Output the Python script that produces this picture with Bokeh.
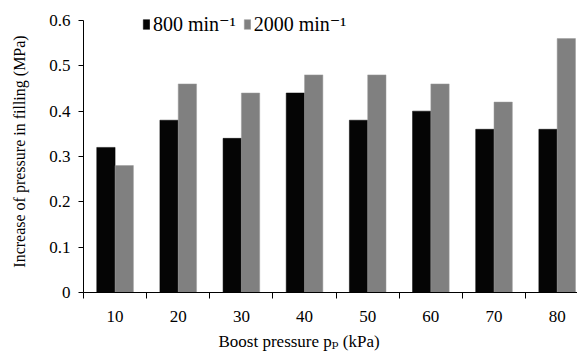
from bokeh.plotting import figure
from bokeh.models import Range1d, FixedTicker, Legend, LegendItem, Title, ColumnDataSource
from bokeh.transform import dodge
from bokeh.embed import file_html
from bokeh.resources import INLINE

categories = ["10", "20", "30", "40", "50", "60", "70", "80"]
s800 = [0.32, 0.38, 0.34, 0.44, 0.38, 0.40, 0.36, 0.36]
s2000 = [0.28, 0.46, 0.44, 0.48, 0.48, 0.46, 0.42, 0.56]
y_ticks = [0, 0.1, 0.2, 0.3, 0.4, 0.5, 0.6]
y_labels = ["0", "0.1", "0.2", "0.3", "0.4", "0.5", "0.6"]
series_names = ["800 min\u207b\u00b9", "2000 min\u207b\u00b9"]
x_title = "Boost pressure p\u209a (kPa)"
y_title = "Increase of pressure in filling (MPa)"

xpos = [i + 1 for i in range(len(categories))]
src = ColumnDataSource(dict(x=xpos, a=s800, b=s2000))

FONT = "Liberation Serif, DejaVu Serif, serif"
BLACK = "#050505"
GRAY = "#808080"

p = figure(width=577, height=356, output_backend="svg", toolbar_location=None,
           x_range=Range1d(0.5, 8.322), y_range=Range1d(0, 0.622),
           min_border_left=83, min_border_right=0, min_border_top=10, min_border_bottom=63)
p.outline_line_color = None
p.xgrid.grid_line_color = None
p.ygrid.grid_line_color = None
p.background_fill_color = "white"

r1 = p.vbar(x=dodge("x", -0.145, range=p.x_range), top="a", width=0.29, source=src,
            fill_color=BLACK, line_color=BLACK, line_width=0.5)
r2 = p.vbar(x=dodge("x", 0.145, range=p.x_range), top="b", width=0.29, source=src,
            fill_color=GRAY, line_color="#9a9a9a", line_width=0.5)

# x axis
xa = p.xaxis[0]
xa.ticker = FixedTicker(ticks=xpos, minor_ticks=[v - 0.5 for v in xpos] + [xpos[-1] + 0.5])
xa.major_label_overrides = {v: c for v, c in zip(xpos, categories)}
xa.major_tick_out = 0
xa.major_tick_in = 0
xa.minor_tick_out = 6
xa.minor_tick_in = 0
xa.minor_tick_line_color = "#000000"
xa.axis_line_color = "#000000"
xa.major_label_text_font = FONT
xa.major_label_text_font_size = "17px"
xa.major_label_text_color = "#000000"
xa.major_label_standoff = 12

# y axis (line limited to the 0..0.6 span)
ya = p.yaxis[0]
ya.ticker = FixedTicker(ticks=y_ticks)
ya.bounds = (y_ticks[0], y_ticks[-1])
ya.major_label_overrides = {v: l for v, l in zip(y_ticks, y_labels)}
ya.major_tick_out = 5
ya.major_tick_in = 0
ya.minor_tick_out = 0
ya.minor_tick_in = 0
ya.axis_line_color = "#000000"
ya.major_tick_line_color = "#000000"
ya.major_label_text_font = FONT
ya.major_label_text_font_size = "17px"
ya.major_label_text_color = "#000000"
ya.major_label_standoff = 8
ya.axis_label = y_title
ya.axis_label_text_font = FONT
ya.axis_label_text_font_size = "16px"
ya.axis_label_text_font_style = "normal"
ya.axis_label_text_color = "#000000"
ya.axis_label_standoff = 18

# x axis title as a below-title (left-aligned with offset)
xt = Title(text=x_title, align="left", offset=135, text_font=FONT,
           text_font_size="17px", text_font_style="normal", text_color="#000000",
           standoff=11)
p.add_layout(xt, "below")

legend = Legend(items=[LegendItem(label=series_names[0], renderers=[r1]),
                       LegendItem(label=series_names[1], renderers=[r2])],
                orientation="horizontal", location=(59, 256),
                padding=0, margin=0, spacing=7, label_standoff=3,
                glyph_width=8, glyph_height=12,
                label_text_font=FONT, label_text_font_size="20px",
                label_text_color="#000000",
                border_line_alpha=0, background_fill_alpha=0)
p.add_layout(legend)

open("out.html", "w").write(file_html(p, INLINE))
